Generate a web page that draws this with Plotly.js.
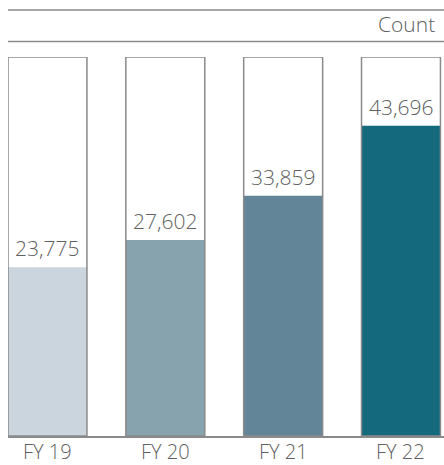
<!DOCTYPE html>
<html>
<head>
<meta charset="utf-8">
<script src="https://cdn.plot.ly/plotly-3.0.1.min.js"></script>
<style>html,body{margin:0;padding:0;background:#fff;}#chart{width:444px;height:465px;}</style>
</head>
<body>
<div id="chart"></div>
<script>
// Data
const categories = ["FY 19", "FY 20", "FY 21", "FY 22"];
const counts = [23775, 27602, 33859, 43696];
const labels = ["23,775", "27,602", "33,859", "43,696"];
const barColors = ["#cad5dd", "#87a3ae", "#628597", "#14697c"];
const boxTop = 53400; // height of the outlined frame behind each bar
const unitLabel = "Count";

const fontFam = "'Open Sans', 'Noto Sans', sans-serif";
const textColor = "#606060";
const lineColor = "#8a8a8a";

const xs = categories.map((c, i) => i);

const traces = [
  {
    type: "bar",
    x: xs,
    y: counts,
    marker: { color: barColors, line: { width: 0 } },
    width: 0.67,
    hoverinfo: "skip",
    showlegend: false
  },
  {
    type: "bar",
    x: xs,
    y: categories.map(() => boxTop),
    marker: { color: "rgba(0,0,0,0)", line: { color: lineColor, width: 1.5 } },
    width: 0.67,
    hoverinfo: "skip",
    showlegend: false
  }
];

const annotations = counts.map((v, i) => ({
  x: xs[i], y: v, xref: "x", yref: "y",
  text: labels[i], showarrow: false,
  xanchor: "center", yanchor: "bottom", yshift: 3,
  font: { family: fontFam, size: 21, color: textColor, weight: 300 }
}));
categories.forEach((c, i) => annotations.push({
  x: xs[i], y: 0, xref: "x", yref: "y",
  text: c, showarrow: false,
  xanchor: "center", yanchor: "top", yshift: -1, borderpad: 0,
  font: { family: fontFam, size: 20, color: textColor, weight: 300 }
}));
annotations.push({
  x: 0.985, y: 1.087, xref: "paper", yref: "paper",
  text: unitLabel, showarrow: false, xanchor: "right", yanchor: "middle",
  font: { family: fontFam, size: 21, color: textColor, weight: 300 }
});

const layout = {
  width: 444, height: 465,
  margin: { l: 8, r: 0, t: 57, b: 29, pad: 0 },
  paper_bgcolor: "#fff", plot_bgcolor: "#fff",
  barmode: "overlay",
  xaxis: {
    range: [-0.335, 3.365],
    showticklabels: false,
    showgrid: false, zeroline: false,
    showline: true, linecolor: lineColor, linewidth: 1.5,
    ticks: "", fixedrange: true
  },
  yaxis: {
    range: [0, boxTop], visible: false, fixedrange: true
  },
  shapes: [
    { type: "line", xref: "paper", yref: "paper", x0: 0, x1: 1, y0: 1.124, y1: 1.124,
      line: { color: lineColor, width: 1.5 } },
    { type: "line", xref: "paper", yref: "paper", x0: 0, x1: 1, y0: 1.041, y1: 1.041,
      line: { color: lineColor, width: 1.5 } }
  ],
  annotations: annotations,
  showlegend: false
};

Plotly.newPlot("chart", traces, layout, { displayModeBar: false, staticPlot: true });
</script>
</body>
</html>
